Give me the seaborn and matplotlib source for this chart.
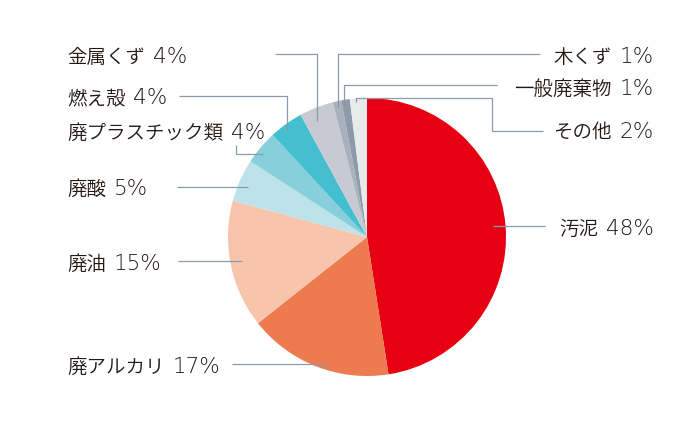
import matplotlib
matplotlib.use('Agg')
import matplotlib.pyplot as plt
import seaborn as sns

# data (clockwise from 12 o'clock)
categories = ['汚泥', '廃アルカリ', '廃油', '廃酸', '廃プラスチック類',
              '燃え殻', '金属くず', '木くず', '一般廃棄物', 'その他']
shares = [48, 17, 15, 5, 4, 4, 4, 1, 1, 2]
slice_colors = ['#e60012', '#ee7a50', '#f7c5ab', '#bde3ea', '#88cfdc',
                '#45bfcf', '#c8cad3', '#a9b1bd', '#8d9aa9', '#e9ebea']

sns.set_theme(style='white')
plt.rcParams['font.family'] = ['Noto Sans CJK JP', 'DejaVu Sans']

W, H = 700, 433
fig = plt.figure(figsize=(7, 4.33), dpi=100)
ax = fig.add_axes([0, 0, 1, 1])
ax.axis('off')

# pie in pixel-like coordinates
ax.pie(shares, colors=slice_colors, startangle=90, counterclock=False,
       center=(367, H - 237), radius=139, wedgeprops=dict(linewidth=0))
ax.set_xlim(0, W)
ax.set_ylim(0, H)
ax.set_aspect('equal')

# label layout: (x, baseline y, ha) and leader line path, pixel coords from top-left
layout = {
    '汚泥': ((654, 235, 'right'), [(545, 226), (493, 226)]),
    '廃アルカリ': ((67, 373, 'left'), [(232, 364), (328, 364)]),
    '廃油': ((67, 270, 'left'), [(178, 261), (242, 261)]),
    '廃酸': ((67, 195, 'left'), [(177, 187), (248, 187)]),
    '廃プラスチック類': ((67, 139, 'left'), [(236, 145), (236, 154), (263, 154)]),
    '燃え殻': ((67, 104, 'left'), [(179, 96), (287, 96), (287, 132)]),
    '金属くず': ((67, 63, 'left'), [(275, 54), (317, 54), (317, 121)]),
    '木くず': ((654, 63, 'right'), [(540, 54), (338, 54), (338, 107)]),
    '一般廃棄物': ((654, 95, 'right'), [(497, 85), (344, 85), (344, 101)]),
    'その他': ((654, 138, 'right'),
             [(543, 131), (492, 131), (492, 98), (356, 98), (356, 102)]),
}

name_style = dict(fontsize=14, color='#231815', fontweight=350,
                  family=['Noto Sans CJK JP', 'DejaVu Sans'])
pct_style = dict(fontsize=15.5, color='#231815', fontweight='light',
                 family=['DejaVu Sans'])
gap = 8  # pixels between name and percentage

renderer = fig.canvas.get_renderer()
for name, pct in zip(categories, shares):
    (tx, ty, ha), path = layout[name]
    xs = [p[0] for p in path]
    ys = [H - p[1] for p in path]
    ax.plot(xs, ys, color='#8e9aaa', linewidth=0.9, solid_capstyle='butt')
    if ha == 'left':
        t = ax.text(tx, H - ty, name, ha='left', va='baseline', **name_style)
        w = t.get_window_extent(renderer).width
        ax.text(tx + w + gap, H - ty, f'{pct}%', ha='left', va='baseline',
                **pct_style)
    else:
        t = ax.text(tx, H - ty, f'{pct}%', ha='right', va='baseline', **pct_style)
        w = t.get_window_extent(renderer).width
        ax.text(tx - w - gap, H - ty, name, ha='right', va='baseline',
                **name_style)

fig.savefig('out.png', dpi=100, facecolor='white')
